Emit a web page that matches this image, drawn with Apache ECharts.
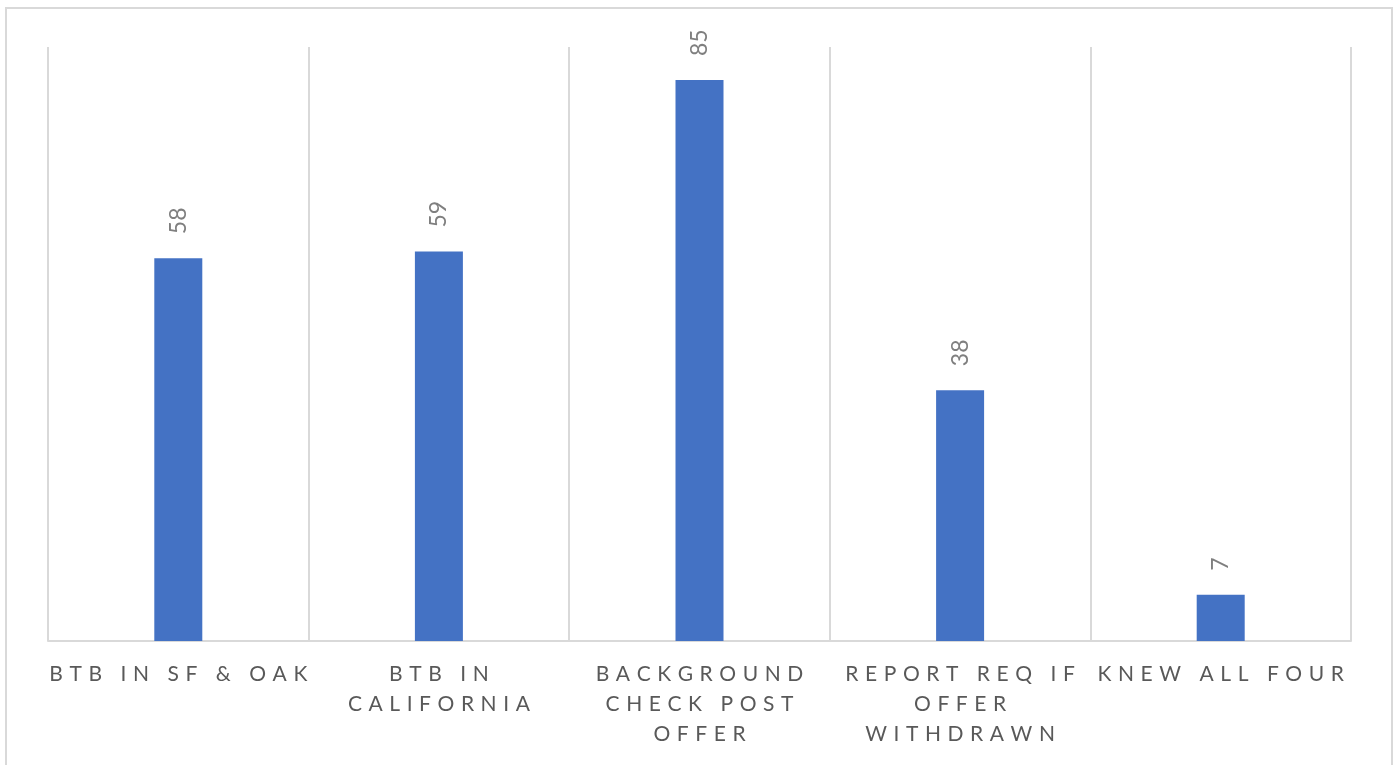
<!DOCTYPE html>
<html>
<head>
<meta charset="UTF-8">
<title>Survey chart</title>
<script src="https://cdn.jsdelivr.net/npm/echarts@6/dist/echarts.min.js"></script>
<style>
  html, body { margin: 0; padding: 0; background: #fff; }
  #main { width: 1395px; height: 765px; }
</style>
</head>
<body>
<div id="main"></div>
<script>
// categories and values
var categories = ['BTB IN SF & OAK', 'BTB IN\nCALIFORNIA', 'BACKGROUND\nCHECK POST\nOFFER', 'REPORT REQ IF\nOFFER\nWITHDRAWN', 'KNEW ALL FOUR'];
var values = [58, 59, 85, 38, 7];

// fake letter spacing with thin spaces
function spaced(s) {
  return s.split('\n').map(function (line) {
    return line.split('').join('\u2009\u2009\u200A');
  }).join('\n');
}

var chart = echarts.init(document.getElementById('main'));

var option = {
  animation: false,
  textStyle: { fontFamily: 'Lato' },
  graphic: [{
    type: 'rect',
    shape: { x: 6, y: 8, width: 1386, height: 800 },
    style: { fill: 'none', stroke: '#d9d9d9', lineWidth: 2 },
    silent: true
  }],
  grid: { left: 48, right: 44, top: 47, bottom: 124 },
  xAxis: {
    type: 'category',
    data: categories,
    boundaryGap: true,
    axisLine: { lineStyle: { color: '#d9d9d9', width: 2 } },
    axisTick: { show: false },
    splitLine: { show: true, interval: 0, lineStyle: { color: '#d9d9d9', width: 2 } },
    axisLabel: {
      interval: 0,
      margin: 18,
      color: '#595959',
      fontSize: 21,
      lineHeight: 30,
      fontFamily: 'Lato',
      formatter: function (v) { return spaced(v); }
    }
  },
  yAxis: {
    type: 'value',
    min: 0,
    max: 90,
    show: false,
    splitLine: { show: false }
  },
  series: [{
    type: 'bar',
    data: values,
    barWidth: 48,
    itemStyle: { color: '#4472c4' },
    label: {
      show: true,
      position: 'top',
      rotate: 90,
      align: 'left',
      verticalAlign: 'middle',
      distance: 20,
      offset: [4, 0],
      color: '#7f7f7f',
      fontSize: 23,
      fontFamily: 'Lato'
    }
  }]
};

chart.setOption(option);
</script>
</body>
</html>
